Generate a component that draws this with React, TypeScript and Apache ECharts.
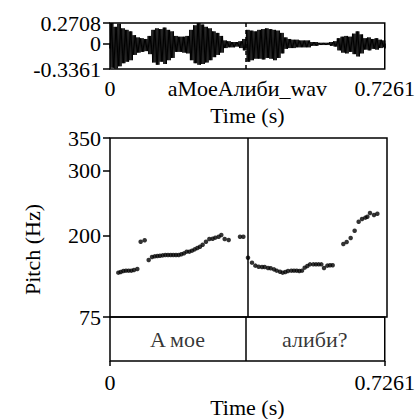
import React, { useEffect, useRef } from "react";
import * as echarts from "echarts";

const DURATION = 0.7261;
const WAVE_MIN = -0.3361;
const WAVE_MAX = 0.2708;
const WAVE_BIN = 0.01;
const FILE_NAME = "aMoeАлиби_wav";
const BOUNDARY = 0.3565;

const timeTicks = [0, 0.7261];
const waveEndTicks = [-0.3361, 0.2708];
const waveZeroTick = [0];
const pitchTicks = [75, 200, 300, 350];
const PITCH_MIN = 75;
const PITCH_MAX = 350;

// waveform envelope per 10 ms bin (max / min amplitude)
const waveUpper = [
  0.27, 0.22, 0.26, 0.2, 0.18, 0.16, 0.11, 0.08, 0.07, 0.06,
  0.1, 0.18, 0.2, 0.19, 0.21, 0.18, 0.16, 0.1, 0.09, 0.09,
  0.1, 0.18, 0.24, 0.27, 0.25, 0.22, 0.2, 0.16, 0.14, 0.1,
  0.04, 0.03, 0.02, 0.02, 0.03, 0.06, 0.18, 0.17, 0.16, 0.18,
  0.19, 0.2, 0.19, 0.18, 0.17, 0.14, 0.08, 0.06, 0.05, 0.05,
  0.04, 0.04, 0.04, 0.02, 0.02, 0.01, 0.01, 0.01, 0.02, 0.03,
  0.07, 0.09, 0.1, 0.09, 0.13, 0.16, 0.12, 0.07, 0.08, 0.06,
  0.07, 0.05, 0.04,
];
const waveLower = [
  -0.32, -0.33, -0.3, -0.26, -0.24, -0.22, -0.15, -0.12, -0.11, -0.1,
  -0.14, -0.25, -0.28, -0.24, -0.27, -0.22, -0.19, -0.11, -0.11, -0.12,
  -0.13, -0.22, -0.26, -0.28, -0.27, -0.25, -0.22, -0.18, -0.15, -0.12,
  -0.06, -0.05, -0.05, -0.04, -0.06, -0.09, -0.24, -0.22, -0.2, -0.2,
  -0.21, -0.19, -0.2, -0.22, -0.19, -0.13, -0.07, -0.06, -0.06, -0.05,
  -0.05, -0.05, -0.05, -0.03, -0.03, -0.02, -0.02, -0.02, -0.03, -0.04,
  -0.09, -0.12, -0.13, -0.11, -0.14, -0.17, -0.13, -0.08, -0.09, -0.07,
  -0.08, -0.06, -0.05,
];

// pitch track (s, Hz)
const pitchTimes = [
  0.0218, 0.028, 0.035, 0.0419, 0.0489, 0.0559, 0.0629, 0.0716,
  0.0804, 0.0909,
  0.1014, 0.1101, 0.1171, 0.1241, 0.1311, 0.1381, 0.145, 0.152, 0.159, 0.166,
  0.173, 0.18, 0.187, 0.194, 0.201, 0.208, 0.2149, 0.2219, 0.2289, 0.2359,
  0.2429, 0.2516, 0.2604, 0.2691, 0.2761, 0.2848, 0.2918, 0.3006, 0.3111,
  0.3408, 0.3495,
  0.3617, 0.3722, 0.381, 0.3897, 0.3984, 0.4054, 0.4142, 0.4212, 0.4299, 0.4369,
  0.4456, 0.4526, 0.4596, 0.4666, 0.4753, 0.4823, 0.4893, 0.4963, 0.5033, 0.5103,
  0.5173, 0.5243, 0.533, 0.54, 0.547, 0.554, 0.561, 0.5697, 0.5767, 0.5837,
  0.6116, 0.6204, 0.6309, 0.6413, 0.6518, 0.6606, 0.6693, 0.6746, 0.6815, 0.692,
  0.7008,
];
const pitchHz = [
  143.1, 144.1, 145.7, 146.2, 146.2, 146.2, 147.2, 148.7,
  190.7, 192.8,
  162.6, 167.2, 168.2, 168.7, 169.2, 169.7, 170.2, 170.2, 170.2, 170.2,
  170.2, 170.2, 171.3, 172.8, 175.4, 175.4, 176.9, 178.9, 181.0, 183.0,
  186.1, 190.7, 194.8, 195.3, 196.9, 198.4, 201.0, 194.8, 193.3,
  198.4, 198.4,
  166.1, 158.5, 153.9, 152.3, 151.8, 151.8, 150.3, 149.8, 148.2, 146.2,
  144.6, 143.1, 144.1, 145.7, 146.2, 146.2, 146.2, 145.7, 146.2, 150.8,
  153.3, 155.9, 155.9, 155.9, 155.9, 155.9, 150.3, 153.9, 154.4, 154.4,
  187.1, 190.2, 196.4, 207.6, 221.4, 225.5, 227.6, 229.1, 234.8, 231.7,
  233.7,
];

const tierStarts = [0, BOUNDARY];
const tierEnds = [BOUNDARY, DURATION];
const tierTexts = ["A мое", "алиби?"];

const FONT = "Liberation Serif";
const FS = 22;

export default function App() {
  const ref = useRef<HTMLDivElement>(null);

  useEffect(() => {
    if (!ref.current) return;
    const chart = echarts.init(ref.current, null, { renderer: "svg" });

    const OSC = 3;
    const waveData: [number, number][] = [];
    waveUpper.forEach((u, i) => {
      const t0 = i * WAVE_BIN;
      for (let k = 0; k < OSC; k++) {
        const s = t0 + (k * WAVE_BIN) / OSC;
        const step = WAVE_BIN / OSC;
        waveData.push([Math.min(s + step * 0.25, DURATION), u]);
        waveData.push([Math.min(s + step * 0.75, DURATION), waveLower[i]]);
      }
    });
    const pitchData = pitchTimes.map((t, i) => [t, pitchHz[i]]);
    const tierData = tierTexts.map((txt, i) => [
      (tierStarts[i] + tierEnds[i]) / 2,
      0.5,
      txt,
    ]);
    const mid = DURATION / 2;

    const gridBase = {
      left: 110,
      width: 277,
      show: true,
      borderColor: "#000",
      borderWidth: 1.5,
      backgroundColor: "transparent",
    };
    const labelStyle = { fontFamily: FONT, fontSize: FS, color: "#000" };

    const xBase = (gridIndex: number, labels: number[], margin: number, name: string) => ({
      type: "value" as const,
      gridIndex,
      min: 0,
      max: DURATION,
      position: "bottom" as const,
      axisLine: { show: false },
      splitLine: { show: false },
      axisTick: {
        show: true,
        inside: false,
        length: 5,
        customValues: timeTicks,
        lineStyle: { color: "#000", width: 1.5 },
      },
      axisLabel: {
        show: true,
        margin,
        showMinLabel: true,
        showMaxLabel: true,
        customValues: labels,
        ...labelStyle,
        formatter: (v: number) =>
          Math.abs(v - mid) < 1e-6 ? FILE_NAME : String(v),
      },
      name,
      nameLocation: "middle" as const,
      nameGap: 35,
      nameTextStyle: { ...labelStyle, verticalAlign: "top" },
    });

    const yBase = (
      gridIndex: number,
      min: number,
      max: number,
      ticks: number[],
      lineHeight?: number
    ) => ({
      type: "value" as const,
      gridIndex,
      min,
      max,
      position: "left" as const,
      offset: 0,
      axisLine: { show: false },
      splitLine: { show: false },
      axisTick: {
        show: true,
        length: 7,
        customValues: ticks,
        lineStyle: { color: "#000", width: 1.5 },
      },
      axisLabel: {
        show: true,
        margin: 9,
        showMinLabel: true,
        showMaxLabel: true,
        customValues: ticks,
        ...labelStyle,
        ...(lineHeight ? { lineHeight } : {}),
        formatter: (v: number) => String(v),
      },
    });

    const option: any = {
      animation: false,
      textStyle: { fontFamily: FONT },
      grid: [
        { ...gridBase, top: 23, height: 46 },
        { ...gridBase, top: 138, height: 179 },
        { ...gridBase, top: 317, height: 44 },
      ],
      xAxis: [
        xBase(0, [0, mid, DURATION], 8, "Time (s)"),
        {
          ...xBase(1, [], 8, ""),
          axisTick: { show: false },
          axisLabel: { show: false },
        },
        xBase(2, timeTicks, 10, "Time (s)"),
      ],
      yAxis: [
        yBase(0, WAVE_MIN, WAVE_MAX, waveEndTicks, 16),
        yBase(1, PITCH_MIN, PITCH_MAX, pitchTicks),
        {
          type: "value",
          gridIndex: 2,
          min: 0,
          max: 1,
          show: false,
        },
        yBase(0, WAVE_MIN, WAVE_MAX, waveZeroTick, 16),
      ],
      graphic: [
        {
          type: "text",
          x: 32,
          y: 249.5,
          rotation: Math.PI / 2,
          style: {
            text: "Pitch (Hz)",
            font: `${FS}px "${FONT}"`,
            fill: "#000",
            align: "center",
            verticalAlign: "middle",
            textAlign: "center",
            textVerticalAlign: "middle",
          },
        },
      ],
      series: [
        {
          type: "line",
          xAxisIndex: 0,
          yAxisIndex: 0,
          data: waveData,
          showSymbol: false,
          symbol: "none",
          lineStyle: { color: "#000", width: 1 },
          silent: true,
          markLine: {
            silent: true,
            symbol: "none",
            label: { show: false },
            lineStyle: { color: "#000", width: 1.5, type: [4, 3] },
            data: [{ xAxis: BOUNDARY }],
          },
        },
        {
          type: "scatter",
          xAxisIndex: 1,
          yAxisIndex: 1,
          data: pitchData,
          symbol: "circle",
          symbolSize: 4.5,
          itemStyle: { color: "#000" },
          silent: true,
          markLine: {
            silent: true,
            symbol: "none",
            label: { show: false },
            lineStyle: { color: "#000", width: 1.5, type: "solid" },
            data: [{ xAxis: BOUNDARY }],
          },
        },
        {
          type: "scatter",
          xAxisIndex: 2,
          yAxisIndex: 2,
          data: tierData,
          symbol: "circle",
          symbolSize: 1,
          itemStyle: { color: "rgba(0,0,0,0)" },
          silent: true,
          label: {
            show: true,
            position: "inside",
            ...labelStyle,
            formatter: (p: any) => p.data[2],
          },
          markLine: {
            silent: true,
            symbol: "none",
            label: { show: false },
            lineStyle: { color: "#000", width: 1.5, type: "solid" },
            data: [{ xAxis: BOUNDARY }],
          },
        },
      ],
    };

    chart.setOption(option);
    return () => chart.dispose();
  }, []);

  return (
    <div
      ref={ref}
      style={{
        position: "fixed",
        left: 0,
        top: 0,
        width: 418,
        height: 419,
        background: "#fff",
      }}
    />
  );
}
